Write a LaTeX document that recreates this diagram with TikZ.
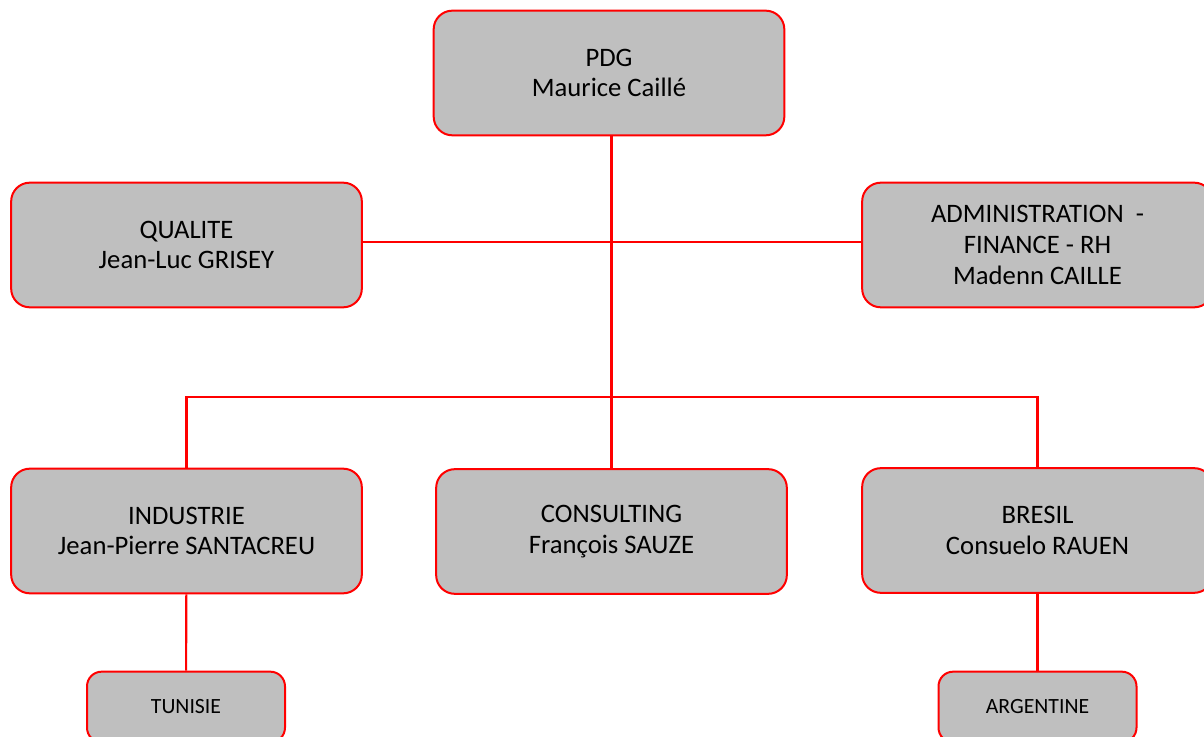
\documentclass[tikz,border=0pt]{standalone}
\usepackage{fontspec}
\setmainfont{Carlito}
\usepackage{tikz}
\definecolor{boxgray}{RGB}{191,191,191}
\tikzset{
  unit/.style={draw=red, fill=boxgray, line width=1.5pt, rounded corners=14pt,
    minimum width=263pt, minimum height=93.5pt, align=center,
    font=\fontsize{20}{23}\selectfont, inner sep=0pt},
  site/.style={unit, minimum width=148.5pt, minimum height=53pt, rounded corners=11pt,
    font=\fontsize{16.3}{19}\selectfont},
  link/.style={draw=red, line width=1.6pt}
}

\begin{document}
\begin{tikzpicture}[x=0.75pt,y=-0.75pt]
\clip (0,0) rectangle (1204,737);
\useasboundingbox (0,0) rectangle (1204,737);
\node[unit] (pdg) at (609,73) {PDG\\Maurice Caillé};
\node[unit] (qual) at (186.5,245) {QUALITE\\Jean-Luc GRISEY};
\node[unit] (admin) at (1037.5,245) {ADMINISTRATION\ \ -\\FINANCE - RH\\Madenn CAILLE};
\node[unit] (ind) at (186.5,531) {INDUSTRIE\\Jean-Pierre SANTACREU};
\node[unit] (cons) at (611.5,531.5) {CONSULTING\\François SAUZE};
\node[unit] (bres) at (1037.5,530.5) {BRESIL\\Consuelo RAUEN};
\node[site] (tun) at (186,707) {TUNISIE};
\node[site] (arg) at (1037.5,707) {ARGENTINE};
\coordinate (bus) at (611.5,397);

\draw[link] (cons.north) to (cons.north |- pdg.south);
\draw[link] (qual.east |- 0,242) to (admin.west |- 0,242);
\draw[link] (ind.north) |- (bus) -| (bres.north);
\draw[link] (ind) to (tun);
\draw[link] (bres) to (arg);
\end{tikzpicture}
\end{document}
